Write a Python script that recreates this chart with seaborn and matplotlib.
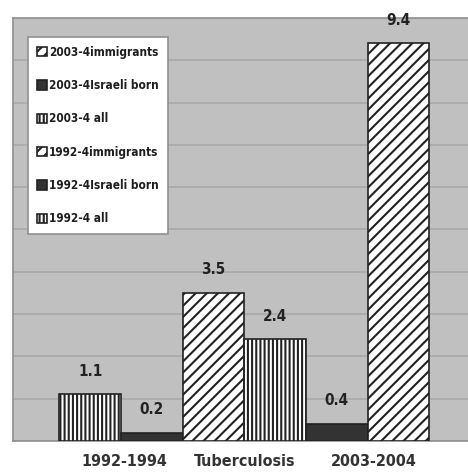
import matplotlib
matplotlib.use('Agg')
import matplotlib.pyplot as plt
import seaborn as sns
import pandas as pd

# bar order left to right
series = ['1992-4 all', '1992-4Israeli born', '1992-4immigrants',
          '2003-4 all', '2003-4Israeli born', '2003-4immigrants']
values = [1.1, 0.2, 3.5, 2.4, 0.4, 9.4]
hatches = ['||||', '', '///', '||||', '', '///']
colors = ['white', '#333333', 'white', 'white', '#333333', 'white']
tick_labels = ['1992-1994', 'Tuberculosis', '2003-2004']
tick_pos = [0.55, 2.5, 4.6]

sns.set_style('white')
plt.rcParams['font.family'] = ['DejaVu Sans']
plt.rcParams['font.stretch'] = 'condensed'
plt.rcParams['font.weight'] = 'bold'
plt.rcParams['hatch.linewidth'] = 1.5
plt.rcParams['hatch.color'] = '#222222'

df = pd.DataFrame({'series': series, 'value': values})

fig = plt.figure(figsize=(4.68, 4.74), dpi=100)
ax = fig.add_axes([13 / 468, 1 - 441 / 474, 1 - 13 / 468 + 0.01, (441 - 18) / 474])
ax.set_facecolor('#c0c0c0')

sns.barplot(data=df, x='series', y='value', hue='series', order=series,
            hue_order=series, palette=colors, dodge=False, width=1.0,
            edgecolor='#222222', linewidth=1.2, legend=False, ax=ax, zorder=3)

for bar, h in zip(ax.patches, hatches):
    bar.set_hatch(h)

for i, v in enumerate(values):
    ax.text(i, v + 0.55, '%.1f' % v, ha='center', va='center',
            fontsize=11, fontweight='bold', color='#222222')

ax.set_ylim(0, 10)
ax.set_xlim(-1.25, 6.2)
ax.set_yticks(range(0, 11))
ax.set_yticklabels([])
ax.grid(axis='y', color='#a8a8a8', linewidth=1.2, zorder=0)
ax.set_axisbelow(True)
ax.set_xticks(tick_pos)
ax.set_xticklabels(tick_labels, fontsize=11.5, fontweight='bold', color='#333333')
ax.tick_params(axis='x', length=0, pad=9)
ax.tick_params(axis='y', length=0)
ax.set_xlabel('')
ax.set_ylabel('')
for s in ['left', 'bottom', 'top']:
    ax.spines[s].set_color('#909090')
    ax.spines[s].set_linewidth(1.2)
ax.spines['right'].set_visible(False)

handles = [ax.patches[i] for i in range(5, -1, -1)]
labels = [series[i] for i in range(5, -1, -1)]
leg = ax.legend(handles, labels, loc='upper left',
                bbox_to_anchor=(28 / 468, 1 - 37 / 474), bbox_transform=fig.transFigure,
                prop={'weight': 'bold', 'size': 8.5}, frameon=True, fancybox=False,
                framealpha=1, facecolor='white',
                handlelength=0.85, handleheight=0.85, handletextpad=0.2,
                labelspacing=1.72, borderpad=0.75, borderaxespad=0)
leg.get_frame().set_edgecolor('#909090')
leg.get_frame().set_linewidth(1.2)
for t in leg.get_texts():
    t.set_color('#1e1e1e')

fig.savefig('out.png', dpi=100)
